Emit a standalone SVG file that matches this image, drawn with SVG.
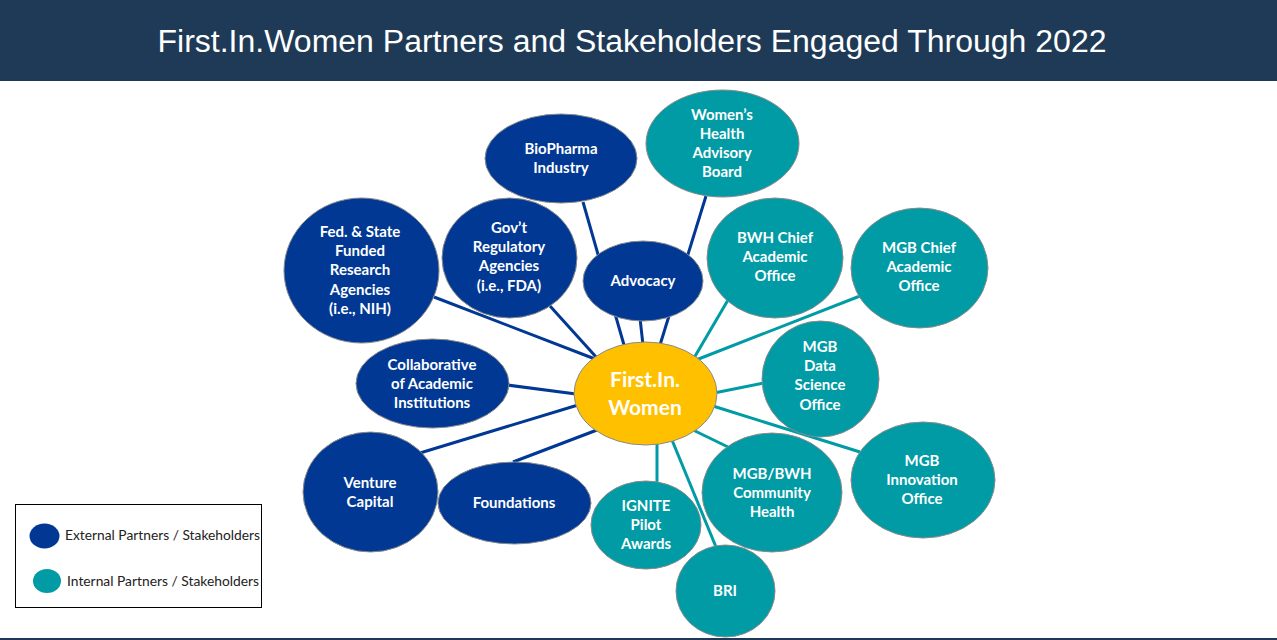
<svg xmlns="http://www.w3.org/2000/svg" width="1277" height="640" viewBox="0 0 1277 640">
<style>
.ext{fill:#003893;stroke:#8a8a8a;stroke-width:1}
.int{fill:#009BA4;stroke:#8a8a8a;stroke-width:1}
.ctr{fill:#FFC000;stroke:#8a8a8a;stroke-width:1}
.lb{fill:#fff;font-family:Lato,"Open Sans",sans-serif;font-weight:bold;font-size:15px;text-anchor:middle}
.big{font-size:21px}
.cb{stroke:#003893;stroke-width:3;fill:none}
.ct{stroke:#009BA4;stroke-width:3;fill:none}
.lg{fill:#222;font-family:Lato,"Open Sans",sans-serif;font-size:12.5px}
</style>
<rect x="0" y="0" width="1277" height="640" fill="#fff"/>
<rect x="0" y="0" width="1277" height="81" fill="#1E3A56"/>
<text x="632" y="52" fill="#fff" font-family="Liberation Sans, Arial, sans-serif" font-size="31" text-anchor="middle" textLength="949" lengthAdjust="spacingAndGlyphs">First.In.Women Partners and Stakeholders Engaged Through 2022</text>
<rect x="0" y="638" width="1277" height="2" fill="#1E3A56"/>

<g id="connectors">
<line class="cb" x1="583" y1="202" x2="624" y2="345"/>
<line class="cb" x1="706" y1="196" x2="660" y2="345"/>
<line class="cb" x1="640" y1="318" x2="643" y2="345"/>
<line class="cb" x1="434" y1="297" x2="595" y2="359"/>
<line class="cb" x1="550" y1="306" x2="597" y2="358"/>
<line class="cb" x1="507" y1="385" x2="576" y2="394"/>
<line class="cb" x1="420" y1="453" x2="578" y2="405"/>
<line class="cb" x1="513" y1="462" x2="597" y2="430"/>
<line class="ct" x1="728" y1="300" x2="694" y2="358"/>
<line class="ct" x1="860" y1="296" x2="696" y2="360"/>
<line class="ct" x1="764" y1="383" x2="714" y2="393"/>
<line class="ct" x1="860" y1="452" x2="713" y2="406"/>
<line class="ct" x1="728" y1="447" x2="693" y2="430"/>
<line class="ct" x1="716" y1="547" x2="672" y2="440"/>
<line class="ct" x1="657" y1="483" x2="657" y2="443"/>
</g>

<g id="biopharma"><ellipse class="ext" cx="561" cy="158.5" rx="76" ry="44.5"/>
<text class="lb" x="561" y="154">BioPharma</text><text class="lb" x="561" y="173">Industry</text></g>

<g id="fedstate"><ellipse class="ext" cx="361.5" cy="270.5" rx="77.5" ry="72.5"/>
<text class="lb" x="360" y="237">Fed. &amp; State</text><text class="lb" x="360" y="256">Funded</text><text class="lb" x="360" y="275">Research</text><text class="lb" x="360" y="294.5">Agencies</text><text class="lb" x="360" y="314">(i.e., NIH)</text></g>

<g id="govt"><ellipse class="ext" cx="509.5" cy="258" rx="67.5" ry="60"/>
<text class="lb" x="509" y="233">Gov’t</text><text class="lb" x="509" y="252">Regulatory</text><text class="lb" x="509" y="271">Agencies</text><text class="lb" x="509" y="290.5">(i.e., FDA)</text></g>

<g id="advocacy"><ellipse class="ext" cx="643" cy="281" rx="60" ry="40"/>
<text class="lb" x="643" y="286">Advocacy</text></g>

<g id="collaborative"><ellipse class="ext" cx="432.5" cy="383.5" rx="76.5" ry="44.5"/>
<text class="lb" x="432" y="370">Collaborative</text><text class="lb" x="432" y="389">of Academic</text><text class="lb" x="432" y="408">Institutions</text></g>

<g id="venture"><ellipse class="ext" cx="370.5" cy="492" rx="67.5" ry="60"/>
<text class="lb" x="370" y="488">Venture</text><text class="lb" x="370" y="507">Capital</text></g>

<g id="foundations"><ellipse class="ext" cx="514.5" cy="503" rx="76.5" ry="41"/>
<text class="lb" x="514" y="508">Foundations</text></g>

<g id="womenshealth"><ellipse class="int" cx="722.5" cy="143.5" rx="76.5" ry="53.5"/>
<text class="lb" x="722" y="120">Women’s</text><text class="lb" x="722" y="139">Health</text><text class="lb" x="722" y="158">Advisory</text><text class="lb" x="722" y="177">Board</text></g>

<g id="bwhchief"><ellipse class="int" cx="775" cy="258" rx="68" ry="60"/>
<text class="lb" x="775" y="243">BWH Chief</text><text class="lb" x="775" y="262">Academic</text><text class="lb" x="775" y="281">Office</text></g>

<g id="mgbchief"><ellipse class="int" cx="919.5" cy="268" rx="68.5" ry="60"/>
<text class="lb" x="919" y="253">MGB Chief</text><text class="lb" x="919" y="272">Academic</text><text class="lb" x="919" y="291">Office</text></g>

<g id="mgbdata"><ellipse class="int" cx="820.5" cy="379" rx="58.5" ry="58"/>
<text class="lb" x="820" y="352">MGB</text><text class="lb" x="820" y="371">Data</text><text class="lb" x="820" y="390">Science</text><text class="lb" x="820" y="409.5">Office</text></g>

<g id="innovation"><ellipse class="int" cx="923" cy="480" rx="72" ry="58"/>
<text class="lb" x="922" y="466">MGB</text><text class="lb" x="922" y="485">Innovation</text><text class="lb" x="922" y="504">Office</text></g>

<g id="community"><ellipse class="int" cx="772" cy="492.5" rx="70" ry="59.5"/>
<text class="lb" x="772" y="479">MGB/BWH</text><text class="lb" x="772" y="498">Community</text><text class="lb" x="772" y="517">Health</text></g>

<g id="ignite"><ellipse class="int" cx="646" cy="525" rx="55" ry="44"/>
<text class="lb" x="646" y="511">IGNITE</text><text class="lb" x="646" y="530">Pilot</text><text class="lb" x="646" y="549">Awards</text></g>

<g id="bri"><ellipse class="int" cx="725.5" cy="591" rx="49.5" ry="46"/>
<text class="lb" x="725" y="596">BRI</text></g>

<g id="center"><ellipse class="ctr" cx="645.5" cy="393.5" rx="71.5" ry="51.5"/>
<text class="lb big" x="645" y="387">First.In.</text><text class="lb big" x="645" y="415">Women</text></g>

<g id="legend">
<rect x="15.5" y="504.5" width="246" height="103" fill="#fff" stroke="#000" stroke-width="1"/>
<ellipse cx="44.5" cy="536" rx="15" ry="12.5" fill="#003893"/>
<ellipse cx="47" cy="581" rx="14" ry="12" fill="#009BA4"/>
<text class="lg" x="65" y="540" textLength="195" lengthAdjust="spacingAndGlyphs">External Partners / Stakeholders</text>
<text class="lg" x="67" y="586" textLength="192" lengthAdjust="spacingAndGlyphs">Internal Partners / Stakeholders</text>
</g>
</svg>
